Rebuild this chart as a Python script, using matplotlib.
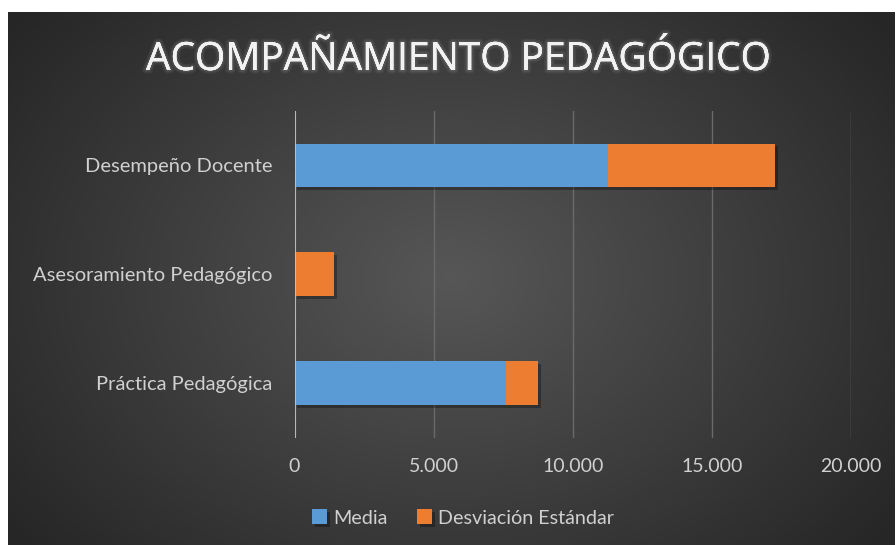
import numpy as np
import matplotlib.pyplot as plt
import matplotlib.patheffects as pe
from matplotlib.ticker import FuncFormatter, MultipleLocator

# data (bottom to top as drawn)
categories = ["Práctica Pedagógica", "Asesoramiento Pedagógico", "Desempeño Docente"]
media = [7590, 0, 11270]
desviacion = [1160, 1420, 6010]
series_names = ["Media", "Desviación Estándar"]
title = "ACOMPAÑAMIENTO PEDAGÓGICO"

W, H = 896, 545
fig = plt.figure(figsize=(W / 100, H / 100), dpi=100)
fig.patch.set_facecolor("white")

# dark radial-gradient panel
bg = fig.add_axes([8 / W, 0, (W - 9) / W, (H - 12) / H])
yy, xx = np.mgrid[-1:1:300j, -1:1:500j]
r = np.sqrt((xx * 1.0) ** 2 + (yy * 0.8) ** 2)
shade = 0.34 - 0.19 * np.clip(r, 0, 1.25) / 1.25
img = np.dstack([shade, shade, shade])
bg.imshow(img, aspect="auto", extent=[0, 1, 0, 1], interpolation="bicubic")
bg.set_axis_off()

ax = fig.add_axes([294.5 / W, (H - 437.5) / H, (851 - 294.5) / W, (437.5 - 111) / H])
ax.patch.set_alpha(0)

blue = "#5b9bd5"
orange = "#ed7d31"
shadow = [pe.SimplePatchShadow(offset=(2, -2), shadow_rgbFace="black", alpha=0.3), pe.Normal()]
y = np.arange(len(categories))
b1 = ax.barh(y, media, height=0.4, color=blue, label=series_names[0], zorder=3)
b2 = ax.barh(y, desviacion, left=media, height=0.4, color=orange, label=series_names[1], zorder=3)
for bar in list(b1) + list(b2):
    bar.set_path_effects(shadow)

ax.set_xlim(0, 20000)
ax.set_ylim(-0.5, 2.5)
ax.xaxis.set_major_locator(MultipleLocator(5000))
ax.xaxis.set_major_formatter(FuncFormatter(lambda v, p: f"{int(v):,}".replace(",", ".")))
ax.grid(axis="x", color="#6a6a6a", linewidth=1, zorder=0)
ax.axvline(0, color="#c8c8c8", linewidth=1.2, zorder=4)
for s in ax.spines.values():
    s.set_visible(False)

ax.set_yticks(y)
ax.set_yticklabels(categories)
ax.tick_params(axis="both", length=0, colors="#d0d0d0")
ax.tick_params(axis="y", pad=16, labelsize=14.5)
ax.tick_params(axis="x", pad=15, labelsize=14)
for lab in ax.get_xticklabels() + ax.get_yticklabels():
    lab.set_fontfamily("Lato")

fig.text(458 / W, 1 - 60 / H, title, ha="center", va="center", fontsize=28,
         family="Open Sans", color="#f2f2f2",
         path_effects=[pe.withStroke(linewidth=5, foreground=(1, 1, 1, 0.06)),
                       pe.withStroke(linewidth=2.5, foreground=(1, 1, 1, 0.08))])

leg = fig.legend(handles=[b1, b2], loc="center", bbox_to_anchor=(463 / W, 1 - 518 / H),
                 ncol=2, frameon=False, handlelength=0.75, handleheight=0.75,
                 handletextpad=0.3, columnspacing=1.5,
                 prop={"family": "Lato", "size": 14.2})
for t in leg.get_texts():
    t.set_color("#d0d0d0")

fig.savefig("out.png", dpi=100)
